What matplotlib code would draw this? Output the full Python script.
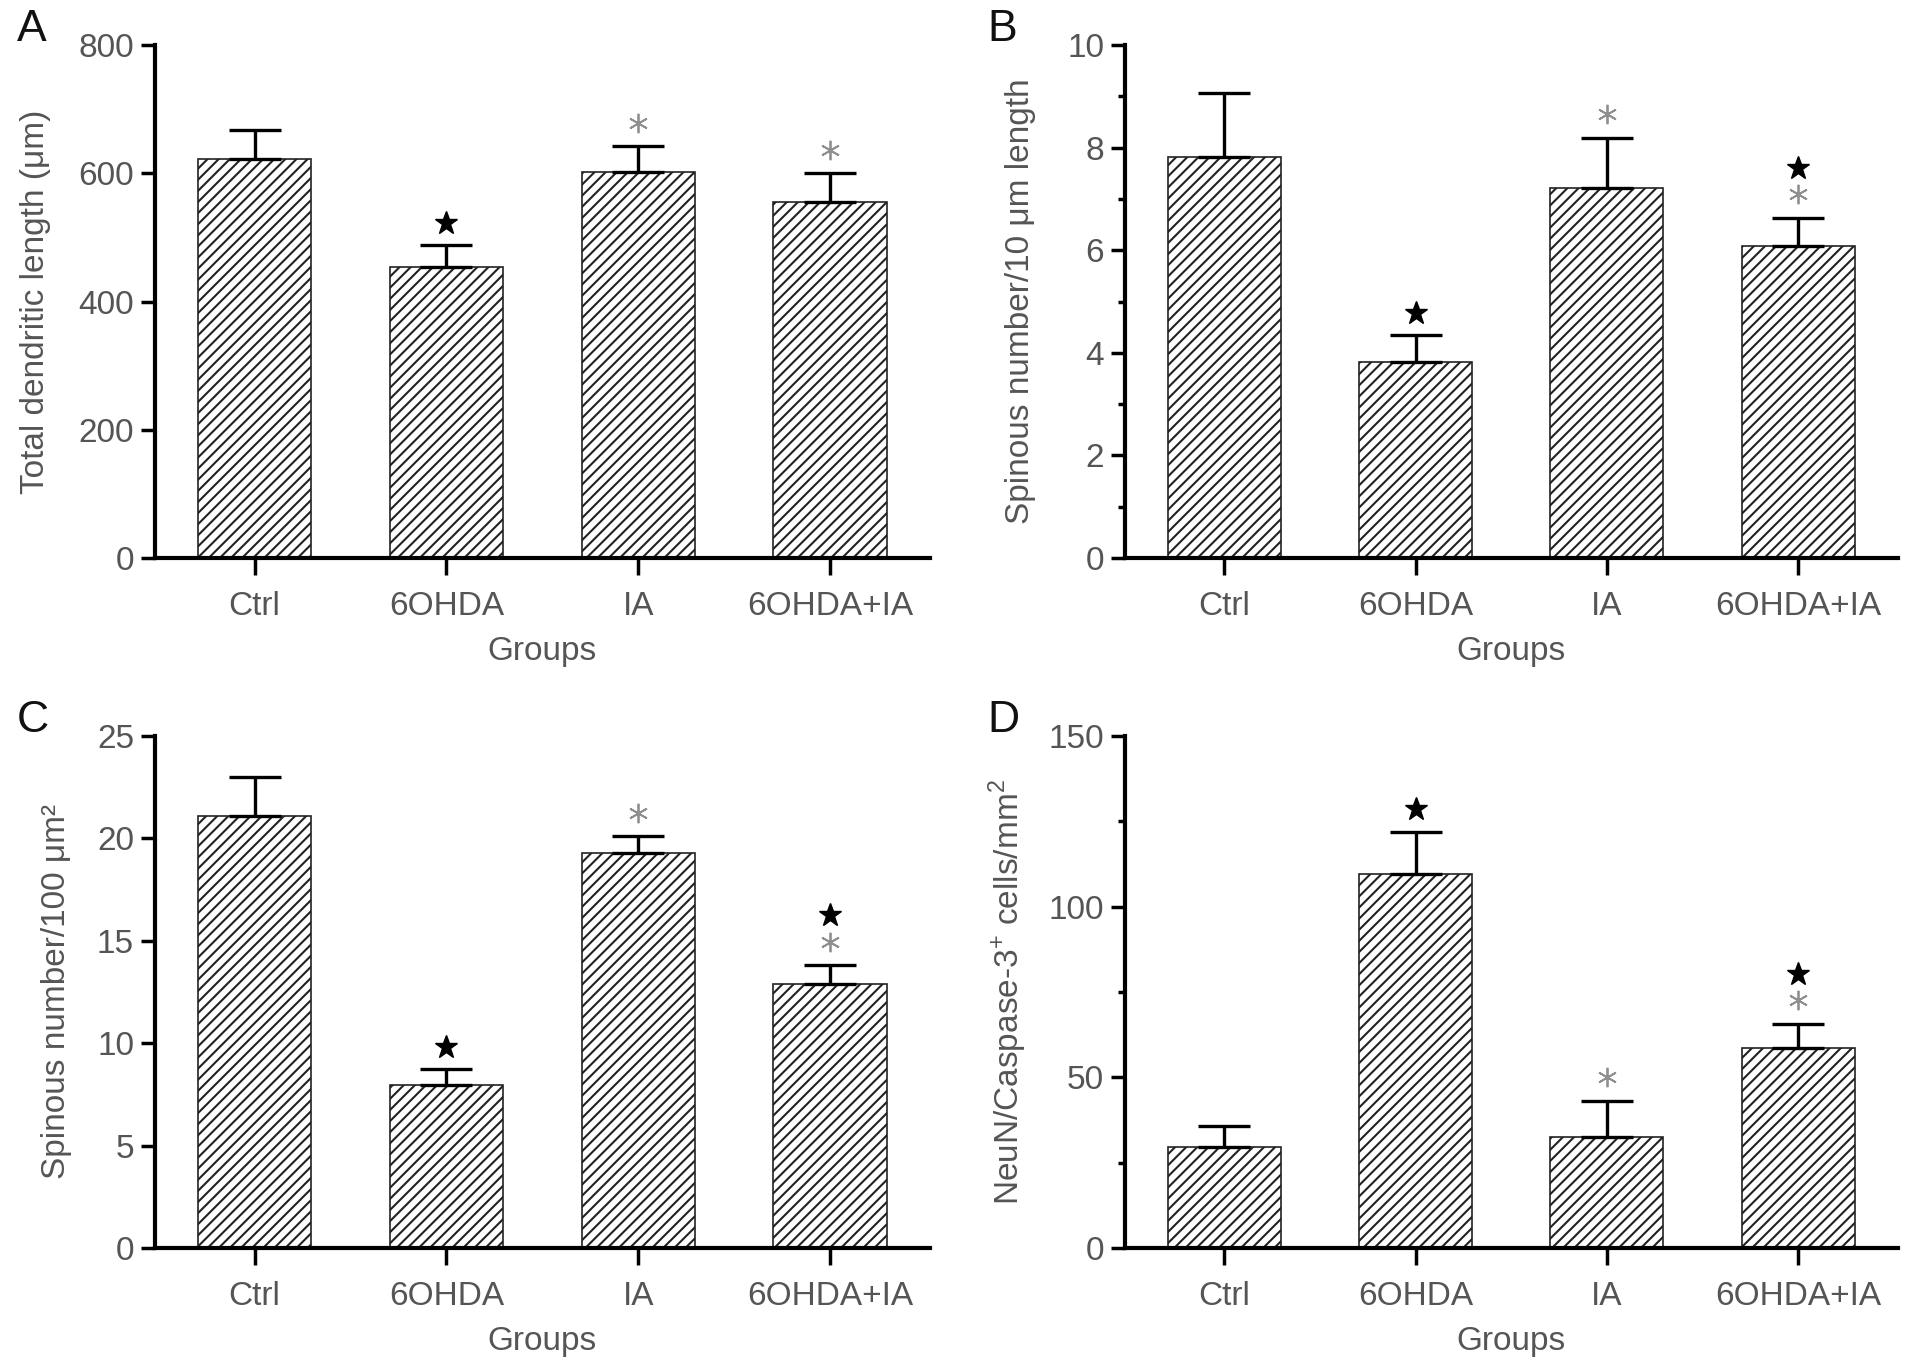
import matplotlib
matplotlib.use("Agg")
import matplotlib.pyplot as plt
from matplotlib.transforms import offset_copy
from matplotlib.ticker import MultipleLocator

plt.rcParams['font.family'] = ['Liberation Sans', 'DejaVu Sans']
plt.rcParams['mathtext.fontset'] = 'custom'
plt.rcParams['mathtext.rm'] = 'Liberation Sans'
plt.rcParams['hatch.linewidth'] = 1.5

groups = ['Ctrl', '6OHDA', 'IA', '6OHDA+IA']

# panel A: total dendritic length
len_mean = [623, 454, 602, 555]
len_err = [44, 34, 40, 45]
len_marks = ['', 'star', 'ast', 'ast']

# panel B: spines per 10 um
lin_mean = [7.81, 3.82, 7.22, 6.08]
lin_err = [1.26, 0.53, 0.97, 0.55]
lin_marks = ['', 'star', 'ast', 'both']

# panel C: spines per 100 um2
area_mean = [21.1, 7.98, 19.3, 12.9]
area_err = [1.9, 0.77, 0.8, 0.9]
area_marks = ['', 'star', 'ast', 'both']

# panel D: NeuN/Caspase-3+ cells
cell_mean = [29.6, 109.6, 32.5, 58.6]
cell_err = [6.1, 12.4, 10.7, 7.1]
cell_marks = ['', 'star', 'ast', 'both']

TXT = '#555555'
FS = 24

fig = plt.figure(figsize=(19.13, 13.69), dpi=100)


def draw_panel(rect, letter, mean, err, marks, ymax, ystep, minor, ylabel, lpad):
    ax = fig.add_axes(rect)
    x = range(len(groups))
    ax.bar(x, mean, width=0.59, color='white', edgecolor='#222222',
           hatch='///', linewidth=1.2, zorder=2)
    ax.errorbar(x, mean, yerr=[[0] * len(err), err], fmt='none',
                ecolor='black', elinewidth=2.4, capsize=19, capthick=2.4, zorder=3)

    ast_tr = offset_copy(ax.transData, fig=fig, y=17, units='points')
    star_tr = offset_copy(ax.transData, fig=fig, y=16, units='points')
    star_hi = offset_copy(ax.transData, fig=fig, y=36, units='points')
    for i, m in enumerate(marks):
        top = mean[i] + err[i]
        if m in ('ast', 'both'):
            ax.plot(i, top, marker=(6, 2, 0), markersize=14, color='#8f8f8f',
                    markeredgewidth=1.3, transform=ast_tr, clip_on=False)
        if m == 'star':
            ax.plot(i, top, marker='*', markersize=17, color='black',
                    transform=star_tr, clip_on=False)
        if m == 'both':
            ax.plot(i, top, marker='*', markersize=17, color='black',
                    transform=star_hi, clip_on=False)

    ax.set_xlim(-0.52, 3.52)
    ax.set_ylim(0, ymax)
    ax.yaxis.set_major_locator(MultipleLocator(ystep))
    if minor:
        ax.yaxis.set_minor_locator(MultipleLocator(minor))
    ax.set_xticks(list(x))
    ax.set_xticklabels(groups)
    for s in ['top', 'right']:
        ax.spines[s].set_visible(False)
    for s in ['left', 'bottom']:
        ax.spines[s].set_linewidth(3)
    ax.tick_params(axis='y', which='major', length=10, width=2.5, labelsize=FS,
                   labelcolor=TXT, pad=5)
    ax.tick_params(axis='y', which='minor', length=5, width=2.5)
    ax.tick_params(axis='x', length=12, width=2.5, labelsize=FS, labelcolor=TXT, pad=12)
    ax.set_xlabel('Groups', fontsize=FS, color=TXT, labelpad=10)
    ax.set_ylabel(ylabel, fontsize=FS, color=TXT, labelpad=lpad)
    ax.text(-0.178, 1.03, letter, transform=ax.transAxes, fontsize=32,
            color='#111111', ha='left', va='center')
    return ax


draw_panel([0.081, 0.5924, 0.405, 0.3747], 'A', len_mean, len_err, len_marks,
           800, 200, None, 'Total dendritic length (μm)', 20)
draw_panel([0.588, 0.5924, 0.404, 0.3747], 'B', lin_mean, lin_err, lin_marks,
           10, 2, 1, 'Spinous number/10 μm length', 22)
draw_panel([0.081, 0.0884, 0.405, 0.374], 'C', area_mean, area_err, area_marks,
           25, 5, None, 'Spinous number/100 μm²', 18)
draw_panel([0.588, 0.0884, 0.404, 0.374], 'D', cell_mean, cell_err, cell_marks,
           150, 50, 25, 'NeuN/Caspase-3$^{+}$ cells/mm$^{2}$', 14)

fig.savefig('out.png', dpi=100)
